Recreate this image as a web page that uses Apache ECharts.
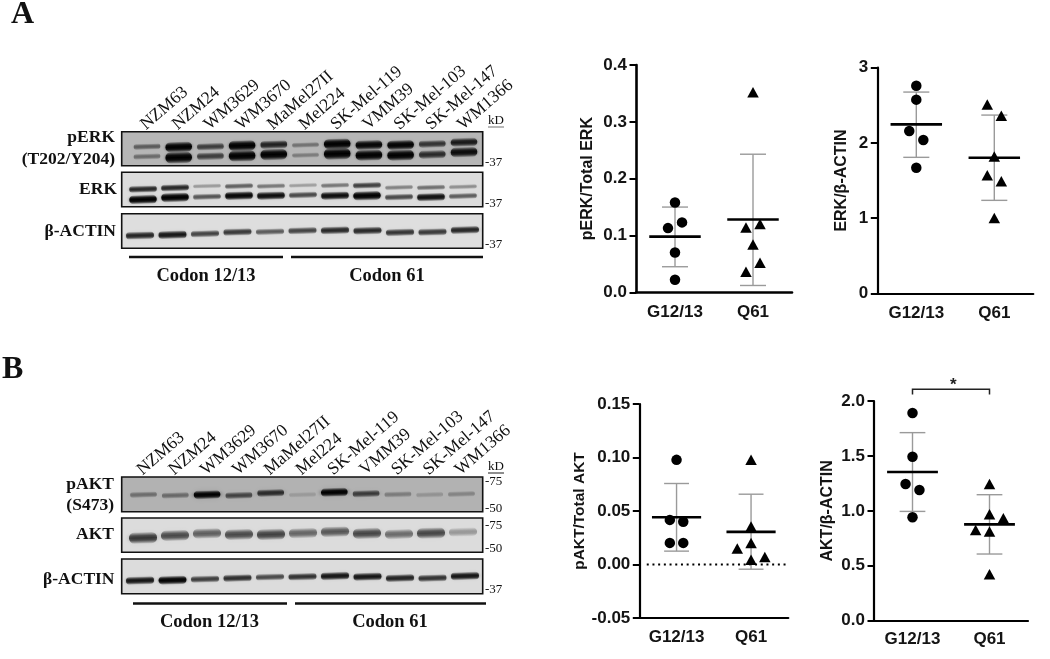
<!DOCTYPE html>
<html><head><meta charset="utf-8">
<style>html,body{margin:0;padding:0;background:#fff}#c{width:1050px;height:659px}</style>
<script src="https://cdn.jsdelivr.net/npm/echarts@6/dist/echarts.min.js"></script>
</head><body><div id="c"></div>
<script>
// ---------- scatter data ----------
const groups = ['G12/13', 'Q61'];
const pErkG = [[0,0.158],[0.09,0.123],[-0.09,0.113],[0,0.070],[0,0.022]];
const pErkQ = [[1,0.352],[1.09,0.120],[0.91,0.114],[1,0.084],[1.09,0.052],[0.91,0.036]];
const pErkStats = [[0,0.098,0.045,0.150],[1,0.128,0.012,0.243]];
const erkG = [[0,2.76],[0,2.575],[-0.09,2.158],[0.09,2.038],[0,1.67]];
const erkQ = [[0.91,2.51],[1.09,2.36],[1,1.82],[0.91,1.57],[1.09,1.49],[1,1.0]];
const erkStats = [[0,2.247,1.808,2.676],[1,1.803,1.236,2.37]];
const pAktG = [[0,0.0978],[-0.09,0.0417],[0.09,0.0399],[-0.09,0.0202],[0.09,0.0202]];
const pAktQ = [[1,0.0978],[1,0.0355],[1,0.0202],[0.815,0.015],[1.185,0.0069],[1,0.0044]];
const pAktStats = [[0,0.0442,0.0125,0.0757],[1,0.0305,-0.0044,0.0657]];
const aktG = [[0,1.891],[0,1.493],[-0.09,1.244],[0.09,1.19],[0,0.941]];
const aktQ = [[1,1.244],[1,0.968],[1.18,0.932],[0.82,0.825],[1,0.813],[1,0.422]];
const aktStats = [[0,1.354,0.995,1.712],[1,0.877,0.607,1.147]];
const sigBracket = [[0,1,2.06,2.106]];
const sigMark = [[0.53,2.14,'*']];
const zeroLine = [[-0.4,0],[1.5,0]];

// ---------- blot data: band darkness and migration level per lane ----------
const laneNames = ['NZM63','NZM24','WM3629','WM3670','MaMel27II','Mel224','SK-Mel-119','VMM39','SK-Mel-103','SK-Mel-147','WM1366'];
const pErkUpDark = [.35,.95,.5,1,.65,.25,1,.85,.88,.55,.7];
const pErkUpLevel = [.44,.45,.44,.41,.38,.39,.36,.39,.39,.36,.31];
const pErkLoDark = [.28,1,.5,.95,.95,.2,1,.92,.92,.6,.8];
const pErkLoLevel = [.73,.76,.72,.71,.67,.69,.65,.69,.69,.67,.60];
const erkUpDark = [.72,.72,.2,.45,.35,.18,.35,.6,.3,.38,.25];
const erkUpLevel = [.49,.45,.40,.40,.40,.38,.38,.38,.44,.44,.42];
const erkLoDark = [.95,1,.45,.85,.8,.5,.8,1,.5,.78,.42];
const erkLoLevel = [.79,.73,.71,.68,.68,.66,.68,.68,.72,.72,.69];
const actADark = [.7,.78,.55,.6,.45,.55,.68,.68,.62,.6,.7];
const actALevel = [.63,.61,.58,.53,.52,.49,.48,.49,.54,.53,.47];
const pAktDark = [.28,.3,.95,.5,.65,.04,1,.55,.2,.08,.16];
const pAktLevel = [.51,.53,.51,.53,.46,.51,.44,.48,.50,.51,.49];
const aktDark = [.68,.58,.48,.58,.62,.45,.52,.6,.42,.6,.22];
const aktLevel = [.58,.51,.45,.48,.48,.44,.40,.45,.47,.44,.41];
const actBDark = [.75,.88,.55,.62,.5,.6,.75,.75,.68,.6,.75];
const actBLevel = [.62,.61,.58,.55,.52,.51,.49,.51,.55,.55,.49];

const grid=[],xAxis=[],yAxis=[],series=[],graphic=[];
const SANS='"Liberation Sans",Arial,sans-serif', SERIF='"Liberation Serif","Times New Roman",serif';

function errShape(api){
  const x=api.value(0), lo=api.value(2), hi=api.value(3);
  const c=(a,b)=>api.coord([a,b]);
  const cap=0.167;
  const grey={stroke:'#9a9a9a',lineWidth:1.4};
  const ln=(p,q,st)=>({type:'line',shape:{x1:p[0],y1:p[1],x2:q[0],y2:q[1]},style:st});
  return {type:'group',children:[
    ln(c(x,lo),c(x,hi),grey),
    ln(c(x-cap,lo),c(x+cap,lo),grey),
    ln(c(x-cap,hi),c(x+cap,hi),grey)
  ]};
}
function meanShape(api){
  const x=api.value(0), m=api.value(1);
  const p=api.coord([x-0.33,m]), q=api.coord([x+0.33,m]);
  return {type:'line',shape:{x1:p[0],y1:p[1],x2:q[0],y2:q[1]},style:{stroke:'#000',lineWidth:2.6}};
}

function addPlot(o){
  const gi=grid.length, xi=xAxis.length, yi=yAxis.length;
  grid.push({left:o.left,top:o.top,width:o.width,height:o.height,containLabel:false});
  xAxis.push({type:'category',gridIndex:gi,data:groups,boundaryGap:true,position:'bottom',
    axisLine:{onZero:false,lineStyle:{color:'#000',width:o.lw}},
    axisTick:{alignWithLabel:true,length:6,lineStyle:{color:'#000',width:2}},
    axisLabel:{color:'#141414',fontFamily:SANS,fontWeight:'bold',fontSize:17,margin:o.xm},splitLine:{show:false}});
  xAxis.push({type:'value',gridIndex:gi,min:-0.5,max:1.5,show:false,splitLine:{show:false}});
  yAxis.push({type:'value',gridIndex:gi,min:o.min,max:o.max,interval:o.interval,
    name:o.name,nameLocation:'middle',nameGap:o.nameGap,nameRotate:90,
    nameTextStyle:{color:'#141414',fontFamily:SANS,fontWeight:'bold',fontSize:o.nameSize},
    axisLine:{show:true,onZero:false,lineStyle:{color:'#000',width:o.lw}},
    axisTick:{show:true,length:6.5,lineStyle:{color:'#000',width:2}},
    axisLabel:{color:'#141414',fontFamily:SANS,fontWeight:'bold',fontSize:17,margin:9,formatter:v=>Number(v).toFixed(o.dec)},
    splitLine:{show:false}});
  const ax={xAxisIndex:xi+1,yAxisIndex:yi};
  if(o.zero) series.push({type:'line',...ax,data:o.zero,symbol:'none',silent:true,z:1,
    lineStyle:{color:'#000',width:2,type:[2,3.7]}});
  series.push({type:'custom',...ax,data:o.stats,renderItem:(p,api)=>errShape(api),encode:{x:0,y:1},silent:true,z:2});
  series.push({type:'scatter',...ax,data:o.g,symbol:'circle',symbolSize:10.5,itemStyle:{color:'#000',opacity:1},silent:true,z:3});
  series.push({type:'scatter',...ax,data:o.q,symbol:'triangle',symbolSize:[11.5,10.5],itemStyle:{color:'#000',opacity:1},silent:true,z:3});
  series.push({type:'custom',...ax,data:o.stats,renderItem:(p,api)=>meanShape(api),encode:{x:0,y:1},silent:true,z:4});
  if(o.bracket){
    series.push({type:'custom',...ax,data:o.bracket,encode:{x:0,y:2},silent:true,z:5,clip:false,
      renderItem:(p,api)=>{
        const a=api.coord([api.value(0),api.value(2)]), b=api.coord([api.value(0),api.value(3)]),
              c=api.coord([api.value(1),api.value(3)]), d=api.coord([api.value(1),api.value(2)]);
        return {type:'polyline',shape:{points:[a,b,c,d]},style:{stroke:'#222',lineWidth:1.5,fill:null}};
      }});
    series.push({type:'custom',...ax,data:o.mark,encode:{x:0,y:1},silent:true,z:5,clip:false,
      renderItem:(p,api)=>{
        const a=api.coord([api.value(0),api.value(1)]);
        return {type:'text',x:a[0],y:a[1],style:{text:'*',font:'bold 17px '+SANS,fill:'#222',textAlign:'center',textVerticalAlign:'middle'}};
      }});
  }
}

addPlot({left:636,top:65,width:156,height:227.3,min:0,max:0.4,interval:0.1,dec:1,lw:2.6,xm:12,name:'pERK/Total ERK',nameSize:16,nameGap:40,g:pErkG,q:pErkQ,stats:pErkStats});
addPlot({left:877.3,top:67.7,width:156,height:225.6,min:0,max:3,interval:1,dec:0,lw:2.2,xm:12,name:'ERK/β-ACTIN',nameSize:16,nameGap:28,g:erkG,q:erkQ,stats:erkStats});
addPlot({left:639.3,top:404,width:149,height:214,min:-0.05,max:0.15,interval:0.05,dec:2,lw:2.2,xm:11,name:'pAKT/Total AKT',nameSize:15.5,nameGap:46,g:pAktG,q:pAktQ,stats:pAktStats,zero:zeroLine});
addPlot({left:874,top:401,width:154,height:219.7,min:0,max:2,interval:0.5,dec:1,lw:2.2,xm:10,name:'AKT/β-ACTIN',nameSize:16,nameGap:38,g:aktG,q:aktQ,stats:aktStats,bracket:sigBracket,mark:sigMark});

function addBlot(o){
  const gi=grid.length, xi=xAxis.length, yi=yAxis.length, left=121.7, width=361;
  grid.push({show:true,left:left,top:o.top,width:width,height:o.height,backgroundColor:o.bg,borderColor:'#111',borderWidth:1.6,containLabel:false});
  xAxis.push({type:'value',gridIndex:gi,min:(left-o.first)/o.pitch,max:(left+width-o.first)/o.pitch,show:false,splitLine:{show:false}});
  yAxis.push({type:'value',gridIndex:gi,min:0,max:1,inverse:true,show:false,splitLine:{show:false}});
  const ax={xAxisIndex:xi,yAxisIndex:yi};
  o.bands.forEach(b=>{
    series.push({type:'custom',...ax,data:b.dark.map((d,i)=>[i,b.level[i],d]),encode:{x:0,y:1},silent:true,z:2,clip:true,
      renderItem:(p,api)=>{
        const c=api.coord([api.value(0),api.value(1)]), d=api.value(2);
        const w=o.pitch*o.bw, h=b.thin+b.span*d, a=Math.min(1,0.1+b.gain*d);
        const col=k=>'rgba(0,0,0,'+(a*k)+')';
        const fill=new echarts.graphic.LinearGradient(0,0,0,1,[
          {offset:0,color:col(.15)},{offset:.3,color:col(.85)},{offset:.5,color:col(1)},{offset:.7,color:col(.85)},{offset:1,color:col(.15)}]);
        return {type:'rect',x:c[0],y:c[1],rotation:0.03,
          shape:{x:-w/2,y:-h/2,width:w,height:h,r:h/2},
          style:{fill:fill,shadowBlur:b.blur,shadowColor:col(.55)}};
      }});
  });
  if(o.labels){
    series.push({type:'custom',...ax,data:laneNames.map((n,i)=>[i,0]),encode:{x:0,y:1},silent:true,z:5,clip:false,
      renderItem:(p,api)=>{
        const c=api.coord([api.value(0),0]);
        return {type:'text',x:c[0]-4,y:c[1]-5,rotation:0.71,
          style:{text:laneNames[api.value(0)],font:'17.5px '+SERIF,fill:'#111',textAlign:'left',textVerticalAlign:'middle'}};
      }});
  }
}
addBlot({top:131.7,height:34,bg:'#b6b6b6',first:147,pitch:31.7,bw:.84,labels:true,bands:[
  {dark:pErkUpDark,level:pErkUpLevel,thin:3.5,span:7,blur:3,gain:1},{dark:pErkLoDark,level:pErkLoLevel,thin:3.5,span:8,blur:3,gain:1}]});
addBlot({top:172.3,height:34.4,bg:'#dcdcdc',first:143,pitch:32,bw:.86,bands:[
  {dark:erkUpDark,level:erkUpLevel,thin:3.5,span:4.5,blur:3,gain:.9},{dark:erkLoDark,level:erkLoLevel,thin:3.5,span:5.5,blur:3,gain:1}]});
addBlot({top:213.7,height:34.6,bg:'#dedede',first:140,pitch:32.5,bw:.86,bands:[
  {dark:actADark,level:actALevel,thin:4,span:5,blur:3,gain:.95}]});
addBlot({top:477,height:34.7,bg:'#b2b2b2',first:143.5,pitch:31.8,bw:.84,labels:true,bands:[
  {dark:pAktDark,level:pAktLevel,thin:5,span:3.5,blur:5,gain:.95}]});
addBlot({top:518,height:34.3,bg:'#dcdcdc',first:143,pitch:32,bw:.88,bands:[
  {dark:aktDark,level:aktLevel,thin:7,span:6,blur:4,gain:.85}]});
addBlot({top:559,height:34.7,bg:'#dcdcdc',first:140,pitch:32.5,bw:.86,bands:[
  {dark:actBDark,level:actBLevel,thin:4,span:5,blur:3,gain:1}]});

// ---------- annotations ----------
function T(text,x,y,font,align){graphic.push({type:'text',x:x,y:y,silent:true,
  style:{text:text,font:font,fill:'#111',textAlign:align||'left',textVerticalAlign:'middle'}});}
function L(x1,y1,x2,y2,w,c){graphic.push({type:'line',silent:true,shape:{x1,y1,x2,y2},style:{stroke:c||'#111',lineWidth:w}});}
const LB='bold 17.5px '+SERIF, CB='bold 18.5px '+SERIF, SM='13px '+SERIF;
T('A',11,15,'bold 32px '+SERIF);
T('B',2,370,'bold 32px '+SERIF);
T('pERK',115,137,LB,'right'); T('(T202/Y204)',115,159.5,LB,'right');
T('ERK',117,189,LB,'right'); T('β-ACTIN',116,231,LB,'right');
T('pAKT',114,484,LB,'right'); T('(S473)',114,505,LB,'right');
T('AKT',114,534,LB,'right'); T('β-ACTIN',114.5,579,LB,'right');
L(129,257,283,257,2.6); L(291,257,483,257,2.6);
T('Codon 12/13',206,276,CB,'center'); T('Codon 61',387,276,CB,'center');
L(133,603.5,287,603.5,2.6); L(295,603.5,486,603.5,2.6);
T('Codon 12/13',209.5,622.5,CB,'center'); T('Codon 61',390,622.5,CB,'center');
T('kD',496,121,SM,'center'); L(488,127,504,127,1.2,'#888');
T('-37',485,162.5,SM); T('-37',485,203.5,SM); T('-37',485,245,SM);
T('kD',496,467,SM,'center'); L(488,473,504,473,1.2,'#444');
T('-75',485,482,SM); T('-50',485,509,SM); T('-75',485,526,SM); T('-50',485,549,SM); T('-37',485,590,SM);

const chart=echarts.init(document.getElementById('c'),null,{renderer:'canvas'});
chart.setOption({animation:false,backgroundColor:'#fff',grid,xAxis,yAxis,series,graphic:{elements:graphic}});
</script></body></html>
